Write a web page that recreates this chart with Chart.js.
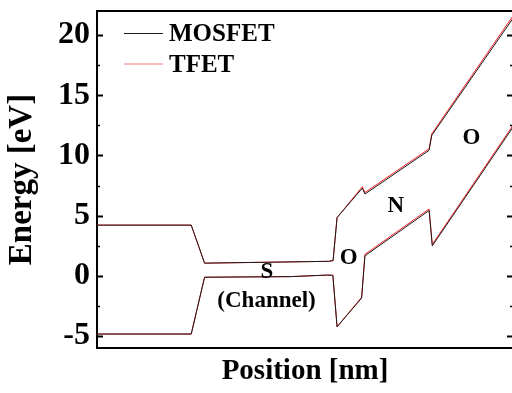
<!DOCTYPE html>
<html><head><meta charset="utf-8">
<script src="https://cdn.jsdelivr.net/npm/chart.js@4/dist/chart.umd.min.js"></script>
<style>html,body{margin:0;padding:0;background:#fff;overflow:hidden}#wrap{width:512px;height:393px;overflow:hidden}canvas{display:block}</style>
</head><body><div id="wrap"><canvas id="c" width="514" height="393"></canvas></div>
<script>
// Conduction band (upper) and valence band (lower) profiles
const posCB    = [0, 22.65, 25.86, 55.66, 56.75, 57.71, 63.78, 64.41, 79.83, 80.48, 100];
const mosfetCB = [4.21, 4.21, 1.05, 1.20, 1.26, 4.84, 7.28, 6.79, 10.42, 11.67, 21.4];
const tfetCB   = [4.21, 4.21, 1.05, 1.20, 1.26, 4.84, 7.40, 6.92, 10.55, 11.80, 21.6];
const posVB    = [0, 22.65, 25.86, 46.5, 55.4, 56.7, 57.71, 63.61, 64.41, 79.83, 80.6, 100];
const mosfetVB = [-4.84, -4.84, -0.12, -0.07, 0.06, 0.04, -4.24, -1.85, 1.66, 5.42, 2.49, 12.35];
const tfetVB   = [-4.84, -4.84, -0.12, -0.07, 0.06, 0.04, -4.24, -1.78, 1.78, 5.55, 2.60, 12.50];
const yMajorTicks = [-5, 0, 5, 10, 15, 20];
const yMinorTicks = [-2.5, 2.5, 7.5, 12.5, 17.5];
const seriesNames = ['MOSFET', 'TFET'];
const seriesColors = ['#1a1a1a', '#ff2020'];
const regionLabels = [
  {text: 'S', x: 40.87, y: -0.17},
  {text: '(Channel)', x: 40.75, y: -2.6},
  {text: 'O', x: 60.5, y: 1.0},
  {text: 'N', x: 71.8, y: 5.26},
  {text: 'O', x: 90.0, y: 10.92}
];
const FONT = "'Liberation Serif', 'Times New Roman', serif";
const pts = (xs, ys) => xs.map((x, i) => ({x, y: ys[i]}));

const framePlugin = {
  id: 'frame',
  afterDatasetsDraw(chart) {
    const {ctx, chartArea: a, scales: {x, y}} = chart;
    ctx.save();
    ctx.strokeStyle = '#000';
    ctx.lineWidth = 2;
    ctx.beginPath();
    ctx.moveTo(a.left - 1, a.top); ctx.lineTo(a.right + 1, a.top);
    ctx.moveTo(a.right, a.top); ctx.lineTo(a.right, a.bottom);
    ctx.stroke();
    const tick = (v, len, w) => {
      const py = Math.round(y.getPixelForValue(v)) + 0.5;
      ctx.lineWidth = w;
      ctx.beginPath();
      ctx.moveTo(a.left, py); ctx.lineTo(a.left + len, py);
      ctx.moveTo(a.right, py); ctx.lineTo(a.right - len, py);
      ctx.stroke();
    };
    yMajorTicks.forEach(v => tick(v, 6, 2));
    yMinorTicks.forEach(v => tick(v, 3, 1.5));
    // legend
    ctx.font = "bold 25px " + FONT;
    ctx.textBaseline = 'alphabetic';
    ctx.textAlign = 'left';
    seriesNames.forEach((n, i) => {
      const ly = 33.5 + i * 30.5;
      ctx.strokeStyle = seriesColors[i];
      ctx.globalAlpha = i === 1 ? 0.6 : 1;
      ctx.lineWidth = 1;
      ctx.beginPath(); ctx.moveTo(124, ly); ctx.lineTo(163, ly); ctx.stroke();
      ctx.globalAlpha = 1;
      ctx.fillStyle = '#000';
      ctx.fillText(n, 169, ly + 7.5);
    });
    // region labels
    ctx.font = "bold 23px " + FONT;
    ctx.textAlign = 'center';
    regionLabels.forEach(l => {
      ctx.fillText(l.text, x.getPixelForValue(l.x), y.getPixelForValue(l.y));
    });
    ctx.restore();
  }
};

new Chart(document.getElementById('c'), {
  type: 'line',
  data: {
    datasets: [
      {label: 'MOSFET', data: pts(posCB, mosfetCB), borderColor: seriesColors[0]},
      {label: 'MOSFET', data: pts(posVB, mosfetVB), borderColor: seriesColors[0]},
      {label: 'TFET', data: pts(posCB, tfetCB), borderColor: seriesColors[1]},
      {label: 'TFET', data: pts(posVB, tfetVB), borderColor: seriesColors[1]}
    ]
  },
  options: {
    responsive: false,
    animation: false,
    devicePixelRatio: 1,
    layout: {padding: {top: 11, right: 1, left: 0, bottom: 0}},
    elements: {point: {radius: 0}, line: {borderWidth: 1, tension: 0}},
    plugins: {legend: {display: false}, tooltip: {enabled: false}},
    scales: {
      x: {
        type: 'linear', min: 0, max: 100,
        grid: {display: false, drawTicks: false},
        border: {display: true, width: 2, color: '#000'},
        ticks: {display: false},
        title: {display: true, text: 'Position [nm]', color: '#000',
                font: {family: FONT, size: 29, weight: 'bold'}, padding: {top: 0, bottom: 4}},
        afterFit(s) { s.height = 45; s.paddingLeft = 0; s.paddingRight = 0; }
      },
      y: {
        type: 'linear', min: -6, max: 22,
        afterBuildTicks(s) { s.ticks = yMajorTicks.map(v => ({value: v})); },
        grid: {display: false, drawTicks: false},
        border: {display: true, width: 2, color: '#000'},
        ticks: {color: '#000', padding: 7, font: {family: FONT, size: 32, weight: 'bold'}},
        title: {display: true, text: 'Energy [eV]', color: '#000',
                font: {family: FONT, size: 33, weight: 'bold'}, padding: {top: 3, bottom: 0}},
        afterFit(s) { s.width = 97; s.paddingTop = 0; s.paddingBottom = 0; }
      }
    }
  },
  plugins: [framePlugin]
});
</script>
</body></html>
